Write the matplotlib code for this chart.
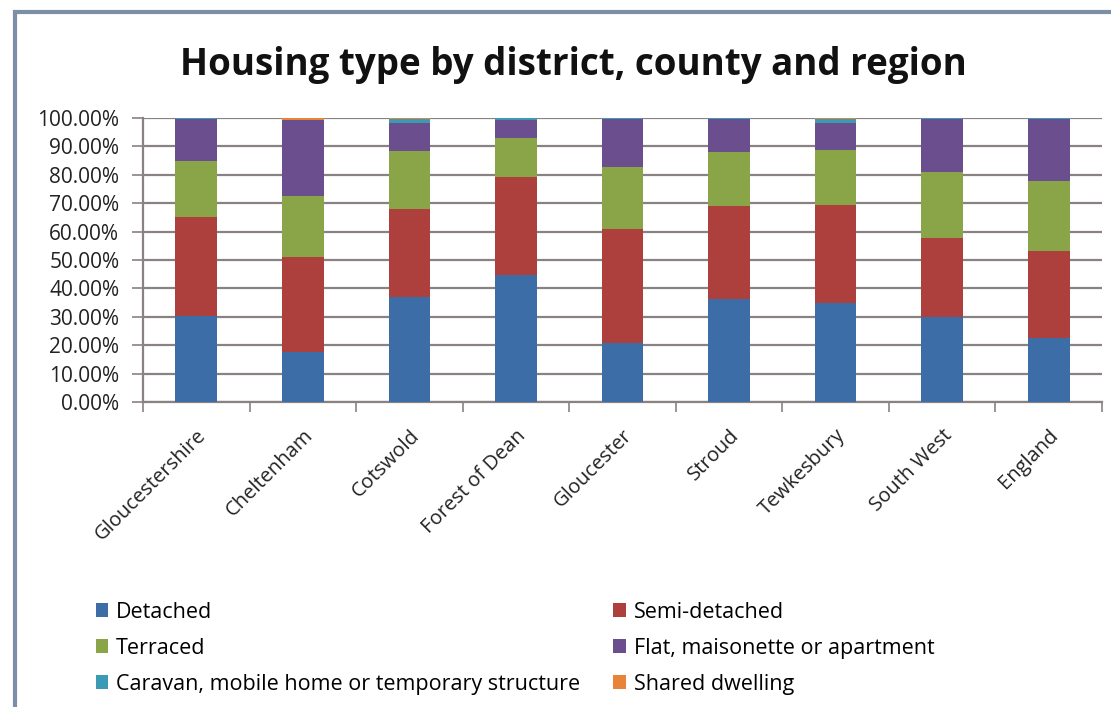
import matplotlib.pyplot as plt
import numpy as np
from matplotlib.patches import Rectangle
from matplotlib.ticker import FuncFormatter, MultipleLocator

areas = ["Gloucestershire", "Cheltenham", "Cotswold", "Forest of Dean",
         "Gloucester", "Stroud", "Tewkesbury", "South West", "England"]

# share of dwellings (%) per housing type
detached = [30.3, 17.7, 36.9, 44.8, 20.7, 36.2, 34.8, 30.0, 22.4]
semi     = [34.8, 33.2, 30.9, 34.3, 40.1, 32.8, 34.6, 27.9, 30.8]
terraced = [19.8, 21.6, 20.7, 13.7, 22.1, 19.1, 19.3, 23.2, 24.7]
flats    = [14.7, 26.7, 9.8, 6.5, 16.8, 11.6, 9.4, 18.5, 21.9]
caravan  = [0.3, 0.1, 1.5, 0.6, 0.2, 0.2, 1.7, 0.3, 0.1]
shared   = [0.1, 0.7, 0.2, 0.1, 0.1, 0.1, 0.2, 0.1, 0.1]

series = [
    ("Detached", detached, "#3c6da6"),
    ("Semi-detached", semi, "#ad403d"),
    ("Terraced", terraced, "#89a548"),
    ("Flat, maisonette or apartment", flats, "#6b4e8e"),
    ("Caravan, mobile home or temporary structure", caravan, "#3b9bb5"),
    ("Shared dwelling", shared, "#e8843a"),
]

plt.rcParams['font.family'] = ['Open Sans', 'DejaVu Sans']

fig = plt.figure(figsize=(11.11, 7.07), dpi=100)
fig.patches.append(Rectangle((0.0135, -0.05), 1.2, 1.033, transform=fig.transFigure,
                             fill=False, edgecolor="#7d8ea6", linewidth=3))

ax = fig.add_axes([0.1287, 0.4314, 0.8632, 0.4017])
x = np.arange(len(areas))
bottom = np.zeros(len(areas))
bars = []
for name, vals, color in series:
    vals = np.array(vals)
    bars.append(ax.bar(x, vals, 0.39, bottom=bottom, color=color, label=name, zorder=3))
    bottom += vals

ax.set_xlim(-0.5, len(areas) - 0.5)
ax.set_ylim(0, 100)
ax.yaxis.set_major_locator(MultipleLocator(10))
ax.yaxis.set_major_formatter(FuncFormatter(lambda v, p: f"{v:.2f}%"))
ax.grid(axis="y", color="#8a8282", linewidth=1.6, zorder=0)
ax.tick_params(axis="y", length=8, width=1.2, color="#8a8282", labelsize=15,
               pad=9, labelcolor="#222222")

ax.set_xticks(x)
ax.set_xticklabels(areas, rotation=45, ha="right", rotation_mode="anchor",
                   fontsize=14.5, color="#222222")
ax.set_xticks(np.arange(-0.5, len(areas)), minor=True)
ax.tick_params(axis="x", which="major", length=0, pad=17)
ax.tick_params(axis="x", which="minor", length=7, width=1.2, color="#8a8282")

for s in ["top", "right"]:
    ax.spines[s].set_visible(False)
for s in ["left", "bottom"]:
    ax.spines[s].set_color("#8a8282")
    ax.spines[s].set_linewidth(1.6)

fig.text(0.516, 0.908, "Housing type by district, county and region",
         ha="center", va="center", fontsize=26.5, fontweight="bold", color="#111111")

# legend reads across rows: two entries per row
order = [0, 2, 4, 1, 3, 5]
fig.legend([bars[i] for i in order], [series[i][0] for i in order],
           loc="upper left", bbox_to_anchor=(0.086, 0.149), ncol=2, frameon=False,
           fontsize=15.5, handlelength=0.6, handleheight=0.6, handletextpad=0.35,
           columnspacing=1.55, labelspacing=0.7, borderaxespad=0, borderpad=0)

fig.savefig("out.png", dpi=100)
